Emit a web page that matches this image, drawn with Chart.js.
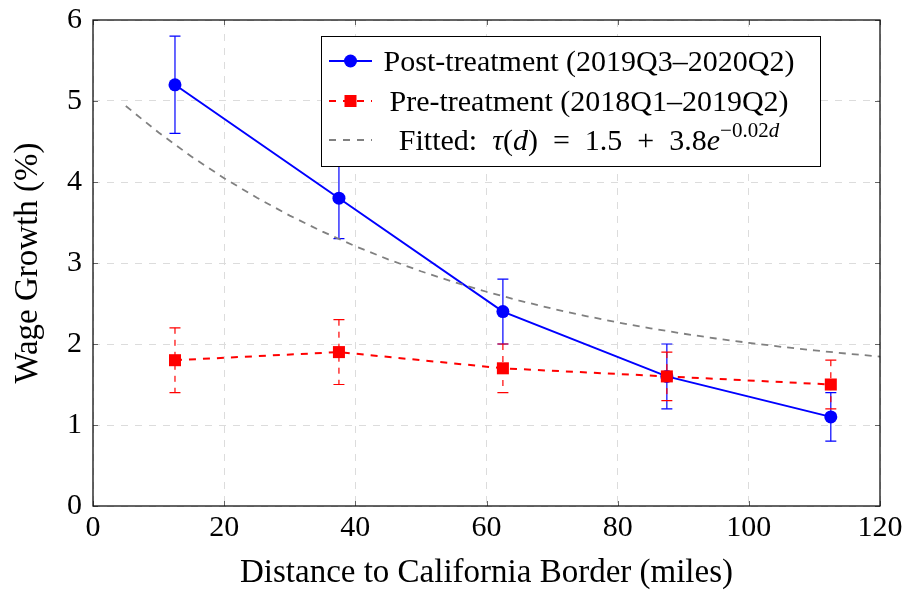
<!DOCTYPE html>
<html>
<head>
<meta charset="utf-8">
<script src="https://cdn.jsdelivr.net/npm/chart.js@4/dist/chart.umd.min.js"></script>
<style>
  html, body { margin: 0; padding: 0; background: #fff; }
  #wrap { width: 907px; height: 594px; }
</style>
</head>
<body>
<div id="wrap"><canvas id="c" width="907" height="594"></canvas></div>
<script>
// Distance bins (miles from the California border)
const distances = [12.5, 37.5, 62.5, 87.5, 112.5];

// Post-treatment wage growth (%) and error half-widths
const postValues = [5.2, 3.8, 2.4, 1.6, 1.1];
const postErrors = [0.6, 0.5, 0.4, 0.4, 0.3];

// Pre-treatment wage growth (%) and error half-widths
const preValues = [1.8, 1.9, 1.7, 1.6, 1.5];
const preErrors = [0.4, 0.4, 0.3, 0.3, 0.3];

// Fitted decay curve tau(d) = 1.5 + 3.8 e^{-0.02 d}, tabulated
const fitDistances = [5, 10, 15, 20, 25, 30, 35, 40, 45, 50, 55, 60,
                      65, 70, 75, 80, 85, 90, 95, 100, 105, 110, 115, 120];
const fitValues = [4.938, 4.611, 4.315, 4.047, 3.805, 3.585, 3.387, 3.207,
                   3.045, 2.898, 2.765, 2.645, 2.536, 2.437, 2.348, 2.267,
                   2.194, 2.128, 2.068, 2.014, 1.965, 1.921, 1.881, 1.845];

// Axis ticks
const xTicks = [0, 20, 40, 60, 80, 100, 120];
const yTicks = [0, 1, 2, 3, 4, 5, 6];

const xTitle = 'Distance to California Border (miles)';
const yTitle = 'Wage Growth (%)';
const postLabel = 'Post-treatment (2019Q3\u20132020Q2)';
const preLabel = 'Pre-treatment (2018Q1\u20132019Q2)';

const SERIF = '"Liberation Serif", "Times New Roman", serif';
const BLUE = '#0000ff';
const RED = '#ff0000';
const GREY = '#808080';

const toPoints = (xs, ys) => xs.map((x, i) => ({ x: x, y: ys[i] }));

// Vertical error bars with caps, drawn beneath the markers
const errorBarPlugin = {
  id: 'errorBars',
  beforeDatasetsDraw(chart) {
    const ctx = chart.ctx;
    const xs = chart.scales.x, ys = chart.scales.y;
    const groups = [
      { vals: postValues, errs: postErrors, color: BLUE, dash: [] },
      { vals: preValues, errs: preErrors, color: RED, dash: [6, 6] }
    ];
    ctx.save();
    groups.forEach(g => {
      ctx.strokeStyle = g.color;
      ctx.lineWidth = 1.2;
      distances.forEach((d, i) => {
        const px = xs.getPixelForValue(d);
        const top = ys.getPixelForValue(g.vals[i] + g.errs[i]);
        const bot = ys.getPixelForValue(g.vals[i] - g.errs[i]);
        ctx.setLineDash(g.dash);
        ctx.beginPath();
        ctx.moveTo(px, top);
        ctx.lineTo(px, bot);
        ctx.stroke();
        ctx.setLineDash([]);
        ctx.beginPath();
        ctx.moveTo(px - 5.5, top); ctx.lineTo(px + 5.5, top);
        ctx.moveTo(px - 5.5, bot); ctx.lineTo(px + 5.5, bot);
        ctx.stroke();
      });
    });
    ctx.restore();
  }
};

// Closed frame with inward tick marks on all four sides
const framePlugin = {
  id: 'frame',
  afterDatasetsDraw(chart) {
    const ctx = chart.ctx;
    const a = chart.chartArea;
    const xs = chart.scales.x, ys = chart.scales.y;
    ctx.save();
    ctx.strokeStyle = '#555';
    ctx.lineWidth = 0.9;
    ctx.beginPath();
    xTicks.forEach(v => {
      const px = Math.round(xs.getPixelForValue(v)) + 0.5;
      ctx.moveTo(px, a.bottom); ctx.lineTo(px, a.bottom - 5);
      ctx.moveTo(px, a.top); ctx.lineTo(px, a.top + 5);
    });
    yTicks.forEach(v => {
      const py = Math.round(ys.getPixelForValue(v)) + 0.5;
      ctx.moveTo(a.left, py); ctx.lineTo(a.left + 5, py);
      ctx.moveTo(a.right, py); ctx.lineTo(a.right - 5, py);
    });
    ctx.stroke();
    ctx.strokeStyle = '#111';
    ctx.lineWidth = 1.3;
    ctx.strokeRect(a.left, a.top, a.right - a.left, a.bottom - a.top);
    ctx.restore();
  }
};

// Boxed legend with a math label for the fitted curve
const legendPlugin = {
  id: 'mathLegend',
  afterDraw(chart) {
    const ctx = chart.ctx;
    const a = chart.chartArea;
    const boxR = a.right - 60, boxT = a.top + 16;
    const boxL = boxR - 499, boxB = boxT + 130;
    const sampleL = boxL + 8, sampleR = boxL + 51, sampleC = (sampleL + sampleR) / 2;
    const textC = boxL + 268;
    const rows = [boxT + 25, boxT + 65, boxT + 104];
    const fs = 30;

    ctx.save();
    ctx.fillStyle = '#fff';
    ctx.fillRect(boxL, boxT, boxR - boxL, boxB - boxT);
    ctx.strokeStyle = '#000';
    ctx.lineWidth = 1;
    ctx.strokeRect(boxL + 0.5, boxT + 0.5, boxR - boxL, boxB - boxT);

    // samples
    ctx.lineWidth = 2;
    ctx.strokeStyle = BLUE;
    ctx.beginPath(); ctx.moveTo(sampleL, rows[0]); ctx.lineTo(sampleR, rows[0]); ctx.stroke();
    ctx.fillStyle = BLUE;
    ctx.beginPath(); ctx.arc(sampleC, rows[0], 6.5, 0, Math.PI * 2); ctx.fill();

    ctx.strokeStyle = RED;
    ctx.setLineDash([7, 7]);
    ctx.beginPath(); ctx.moveTo(sampleL, rows[1]); ctx.lineTo(sampleR, rows[1]); ctx.stroke();
    ctx.setLineDash([]);
    ctx.fillStyle = RED;
    ctx.fillRect(sampleC - 6, rows[1] - 6, 12, 12);

    ctx.strokeStyle = GREY;
    ctx.lineWidth = 1.8;
    ctx.setLineDash([7, 7]);
    ctx.beginPath(); ctx.moveTo(sampleL, rows[2]); ctx.lineTo(sampleR, rows[2]); ctx.stroke();
    ctx.setLineDash([]);

    // text rows
    ctx.fillStyle = '#000';
    ctx.textBaseline = 'alphabetic';
    ctx.textAlign = 'left';
    const base = r => r + 10;

    const drawRuns = (runs, y) => {
      let total = 0;
      runs.forEach(r => {
        ctx.font = (r.italic ? 'italic ' : '') + r.size + 'px ' + SERIF;
        r.w = ctx.measureText(r.t).width;
        total += r.w;
      });
      let x = textC - total / 2;
      runs.forEach(r => {
        ctx.font = (r.italic ? 'italic ' : '') + r.size + 'px ' + SERIF;
        ctx.fillText(r.t, x, y - (r.rise || 0));
        x += r.w;
      });
    };

    drawRuns([{ t: postLabel, size: fs }], base(rows[0]));
    drawRuns([{ t: preLabel, size: fs }], base(rows[1]));
    drawRuns([
      { t: 'Fitted:  ', size: fs },
      { t: '\u03c4', size: fs, italic: true },
      { t: '(', size: fs },
      { t: 'd', size: fs, italic: true },
      { t: ')  =  1.5  +  3.8', size: fs },
      { t: 'e', size: fs, italic: true },
      { t: '\u22120.02', size: 21, rise: 13 },
      { t: 'd', size: 21, italic: true, rise: 13 }
    ], base(rows[2]));
    ctx.restore();
  }
};

new Chart(document.getElementById('c'), {
  type: 'scatter',
  data: {
    datasets: [
      {
        label: 'Fitted',
        data: toPoints(fitDistances, fitValues),
        showLine: true,
        borderColor: GREY,
        borderWidth: 1.8,
        borderDash: [7, 6],
        pointRadius: 0,
        order: 0
      },
      {
        label: preLabel,
        data: toPoints(distances, preValues),
        showLine: true,
        borderColor: RED,
        backgroundColor: RED,
        borderWidth: 2,
        borderDash: [7, 7],
        pointStyle: 'rect',
        pointRadius: 8.5,
        pointBorderWidth: 0,
        pointBackgroundColor: RED,
        order: 1
      },
      {
        label: postLabel,
        data: toPoints(distances, postValues),
        showLine: true,
        borderColor: BLUE,
        backgroundColor: BLUE,
        borderWidth: 2,
        pointStyle: 'circle',
        pointRadius: 6.5,
        pointBorderWidth: 0,
        pointBackgroundColor: BLUE,
        order: 2
      }
    ]
  },
  options: {
    responsive: false,
    devicePixelRatio: 1,
    animation: false,
    layout: { padding: { top: 20, right: 27, left: 0, bottom: 0 } },
    plugins: { legend: { display: false }, tooltip: { enabled: false } },
    scales: {
      x: {
        type: 'linear',
        min: 0, max: 120,
        afterBuildTicks: s => { s.ticks = xTicks.map(v => ({ value: v })); },
        afterFit: s => { s.height = 88; s.paddingLeft = 0; s.paddingRight = 0; },
        ticks: { font: { family: SERIF, size: 30 }, color: '#000', padding: 4, maxRotation: 0 },
        grid: { color: '#dcdcdc', lineWidth: 1, drawTicks: false },
        border: { display: false, dash: [7, 7] },
        title: { display: true, text: xTitle, color: '#000',
                 font: { family: SERIF, size: 33 }, padding: { top: 0, bottom: 1 } }
      },
      y: {
        type: 'linear',
        min: 0, max: 6,
        afterBuildTicks: s => { s.ticks = yTicks.map(v => ({ value: v })); },
        afterFit: s => { s.width = 93; s.paddingTop = 0; s.paddingBottom = 0; },
        ticks: { font: { family: SERIF, size: 30 }, color: '#000', padding: 11 },
        grid: { color: '#dcdcdc', lineWidth: 1, drawTicks: false },
        border: { display: false, dash: [7, 7] },
        title: { display: true, text: yTitle, color: '#000',
                 font: { family: SERIF, size: 33 }, padding: { top: 9, bottom: 0 } }
      }
    }
  },
  plugins: [errorBarPlugin, framePlugin, legendPlugin]
});
</script>
</body>
</html>
